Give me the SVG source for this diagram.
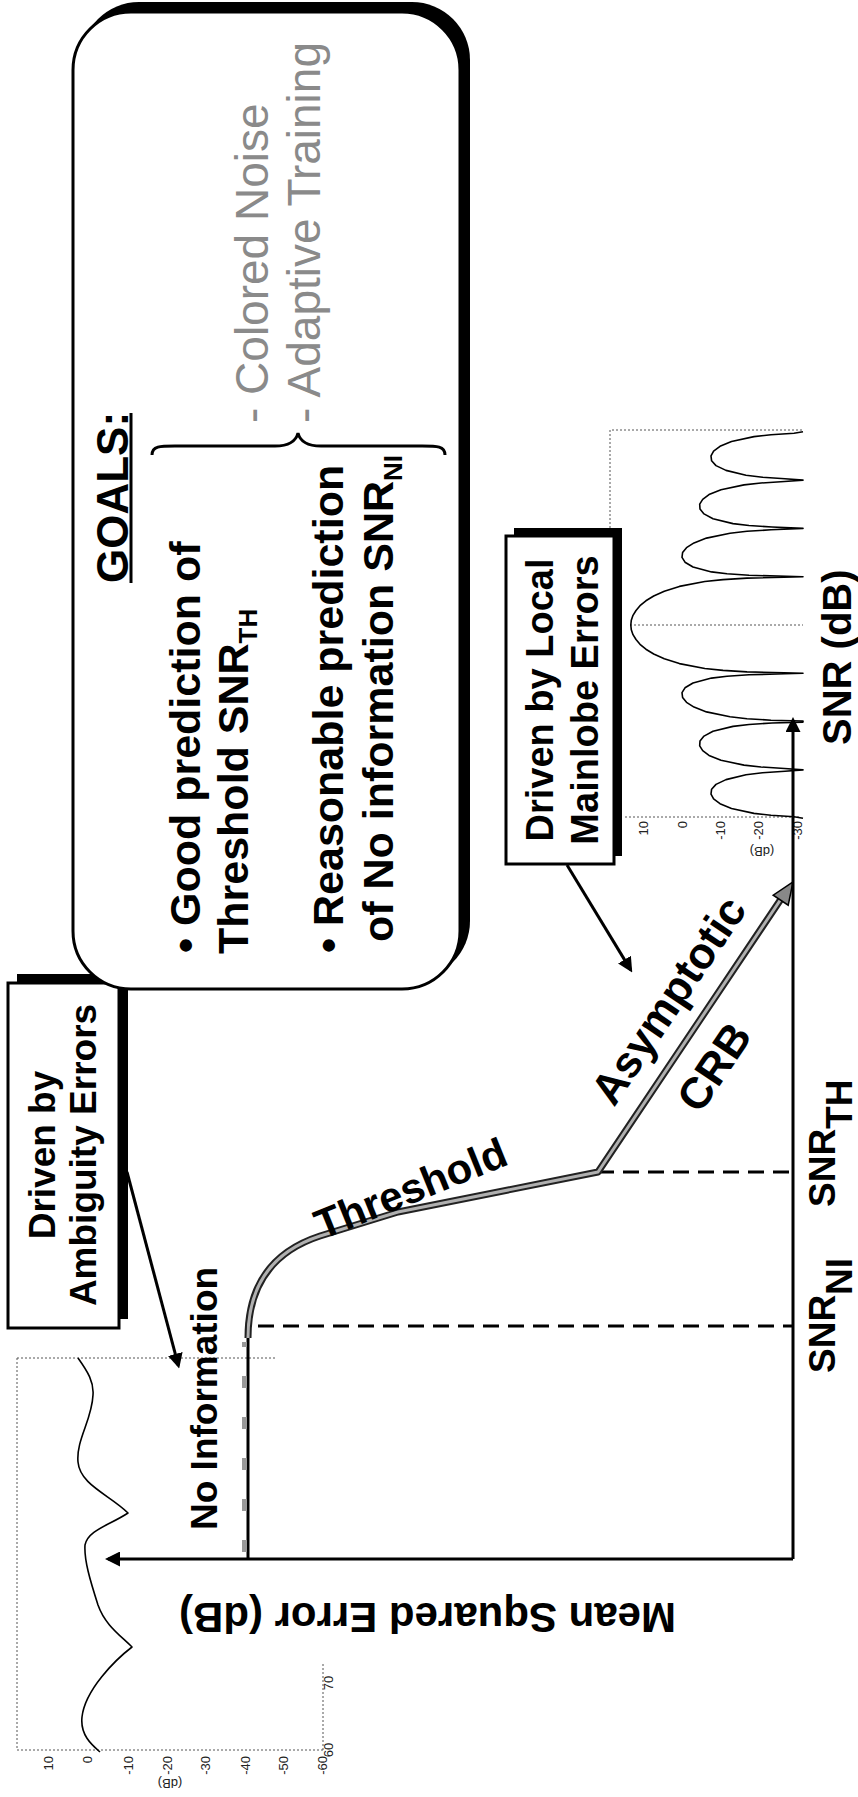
<svg xmlns="http://www.w3.org/2000/svg" width="858" height="1797" viewBox="0 0 858 1797">
<style>
.t{font-family:"Liberation Sans",Arial,sans-serif;font-weight:bold;fill:#000}
.g{font-family:"Liberation Sans",Arial,sans-serif;fill:#8a8a8a}
.s{font-family:"Liberation Sans",Arial,sans-serif;font-size:13px;fill:#222}
.ln{fill:none;stroke:#000;stroke-width:3}
.dash{fill:none;stroke:#000;stroke-width:3;stroke-dasharray:16 9}
.dot{fill:none;stroke:#555;stroke-width:1;stroke-dasharray:2 2}
.box{fill:#fff;stroke:#000;stroke-width:3}
.shadow{fill:#000}
.curve{fill:none;stroke:#000;stroke-width:1.6;stroke-linejoin:round}
</style>
<defs>
<marker id="ah" viewBox="0 0 10 10" refX="8" refY="5" markerWidth="5" markerHeight="5" orient="auto" markerUnits="strokeWidth"><path d="M0,0 L10,5 L0,10 z" fill="#000"/></marker>
</defs>
<rect x="0" y="0" width="858" height="1797" fill="#fff"/>

<g id="inset-left">
<path class="dot" d="M17,1358 L277,1358 M17,1358 L17,1750 L323,1750 M323,1750 L323,1663"/>
<path class="curve" d="M78,1358 C88,1372 94,1382 93,1395 C92,1420 76,1440 78,1462 C80,1485 110,1495 128,1513 C110,1525 88,1530 85,1545 C84,1560 90,1580 98,1605 C105,1625 120,1635 132,1647 C115,1660 85,1690 82,1717 C80,1735 92,1745 100,1752"/>
<g class="s" text-anchor="end">
<text transform="translate(53,1756) rotate(-90)">10</text>
<text transform="translate(92,1756) rotate(-90)">0</text>
<text transform="translate(133,1756) rotate(-90)">-10</text>
<text transform="translate(172,1756) rotate(-90)">-20</text>
<text transform="translate(210,1756) rotate(-90)">-30</text>
<text transform="translate(250,1756) rotate(-90)">-40</text>
<text transform="translate(288,1756) rotate(-90)">-50</text>
<text transform="translate(327,1756) rotate(-90)">-60</text>
</g>
<g class="s" text-anchor="middle">
<text transform="translate(333,1750) rotate(-90)">60</text>
<text transform="translate(333,1683) rotate(-90)">70</text>
<text transform="translate(170,1779) rotate(180)">(dB)</text>
</g>
</g>

<g id="inset-right">
<path class="dot" d="M610,528 L610,430 L803,430 M630,625 L803,625 M625,817 L800,817"/>
<path class="curve" d="M803,431.8 L794,433.2 L771,434.7 L754,436.6 L731.5,441.5 L720,446.3 L713.6,451.1 L711,455.9 L711.6,460.8 L716,465.6 L726,470.4 L746,475.3 L762.5,477.2 L785,478.7 L803,480.1 L784.5,481.5 L761,483 L744,484.9 L721,489.8 L709,494.6 L702.7,499.4 L699.7,504.2 L700,509.1 L704,513.9 L713,518.7 L733,523.6 L749,525.5 L772,527 L803,528.4 L771,529.8 L747,531.3 L730,533.2 L706.5,538.1 L694,542.9 L686.5,547.7 L682.6,552.5 L682,557.4 L685,562.2 L693,567 L711.5,571.9 L727,573.8 L749,575.3 L803,576.7 L784,577.2 L747,578.1 L723,579.6 L704.8,581.5 L679.4,586.4 L664.3,591.2 L653.7,596 L645.9,600.8 L640,605.7 L636,610.5 L633,615.3 L631.3,620.2 L630.8,625 L631.3,629.8 L633,634.7 L636,639.5 L640,644.3 L645.9,649.2 L653.7,654 L664.3,658.8 L679.4,663.6 L704.8,668.5 L723,670.4 L747,671.9 L784,672.8 L803,673.3 L785,673.8 L749,674.7 L727,676.2 L711.5,678.1 L693,683 L685,687.8 L682,692.6 L682.6,697.5 L686.5,702.3 L694,707.1 L706.5,711.9 L730,716.8 L747,718.7 L771,720.2 L803,721.1 L803,721.6 L803,722.1 L772,723 L749,724.5 L733,726.4 L713,731.3 L704,736.1 L700,740.9 L699.7,745.8 L702.7,750.6 L709,755.4 L721,760.2 L744,765.1 L761,767 L784.5,768.5 L803,769.9 L785,771.3 L762.5,772.8 L746,774.7 L726,779.6 L716,784.4 L711.6,789.2 L711,794.1 L713.6,798.9 L720,803.7 L731.5,808.5 L754,813.4 L771,815.3 L794,816.8 L803,818.2"/>
<g class="s" text-anchor="end">
<text transform="translate(648,821) rotate(-90)">10</text>
<text transform="translate(687,821) rotate(-90)">0</text>
<text transform="translate(725,821) rotate(-90)">-10</text>
<text transform="translate(763,821) rotate(-90)">-20</text>
<text transform="translate(802,821) rotate(-90)">-30</text>
</g>
<text class="s" text-anchor="middle" transform="translate(762,847) rotate(180)">(dB)</text>
</g>

<g id="box-ambiguity">
<rect class="shadow" x="17" y="974" width="111" height="345"/>
<rect class="box" x="8" y="983" width="111" height="345"/>
<text class="t" font-size="37" text-anchor="middle" transform="translate(55,1155) rotate(-90)">Driven by</text>
<text class="t" font-size="37" text-anchor="middle" transform="translate(96,1155) rotate(-90)">Ambiguity Errors</text>
</g>

<g id="goals">
<rect class="shadow" x="81" y="2" width="389" height="977" rx="58"/>
<rect class="box" x="73" y="12" width="387" height="977" rx="58" stroke-width="4"/>
<text class="t" font-size="44" transform="translate(128,583) rotate(-90)">GOALS:</text>
<line x1="131" y1="583" x2="131" y2="413" stroke="#000" stroke-width="3"/>
<text class="t" font-size="43" transform="translate(200,953) rotate(-90)">• Good prediction of</text>
<text class="t" font-size="43" transform="translate(248,954) rotate(-90)">Threshold SNR<tspan font-size="26" dy="9">TH</tspan></text>
<text class="t" font-size="43" transform="translate(343,953) rotate(-90)">• Reasonable prediction</text>
<text class="t" font-size="43" transform="translate(393,942) rotate(-90)">of No information SNR<tspan font-size="26" dy="9">NI</tspan></text>
<path d="M152,455 C152,446 160,446 175,446 L275,446 C290,446 296,441 298,433 C300,441 306,446 321,446 L422,446 C437,446 445,446 445,455" fill="none" stroke="#000" stroke-width="3"/>
<text class="g" font-size="46" transform="translate(268,423) rotate(-90)">- Colored Noise</text>
<text class="g" font-size="46" transform="translate(320,423) rotate(-90)">- Adaptive Training</text>
</g>

<g id="box-local">
<rect class="shadow" x="514" y="528" width="108" height="328"/>
<rect class="box" x="506" y="536" width="108" height="328"/>
<text class="t" font-size="38" text-anchor="middle" transform="translate(553,700) rotate(-90)">Driven by Local</text>
<text class="t" font-size="38" text-anchor="middle" transform="translate(598,700) rotate(-90)">Mainlobe Errors</text>
</g>

<g id="curve">
<line class="dash" x1="258" y1="1326" x2="793" y2="1326"/>
<line class="dash" x1="598" y1="1172" x2="793" y2="1172"/>
<path d="M248,1559 L248,1338" fill="none" stroke="#000" stroke-width="3"/>
<path d="M244.5,1552 L244.5,1342" fill="none" stroke="#999" stroke-width="5" stroke-dasharray="12 29"/>
<path d="M248,1338 C248,1290 268,1253 320,1236 L398,1212 L598,1172 L781,899" fill="none" stroke="#222" stroke-width="7" stroke-linejoin="round"/>
<path d="M248,1338 C248,1290 268,1253 320,1236 L398,1212 L598,1172 L781,899" fill="none" stroke="#b0b0b0" stroke-width="3" stroke-linejoin="round"/>
<polygon points="793,882 788.2,905.2 773.2,895.2" fill="#888" stroke="#000" stroke-width="1.5"/>
</g>

<g id="connectors">
<path class="ln" d="M793,1559 L793,720" marker-end="url(#ah)"/>
<path class="ln" d="M793,1559 L108,1559" marker-end="url(#ah)"/>
<path class="ln" stroke-width="2.5" d="M127,1172 L178.4,1365.6" marker-end="url(#ah)"/>
<path class="ln" stroke-width="2.5" d="M567,865 L630.7,969.9" marker-end="url(#ah)"/>
</g>

<g id="labels">
<text class="t" font-size="37" transform="translate(217,1530) rotate(-90)">No Information</text>
<text class="t" font-size="42" transform="translate(322,1240) rotate(-22)">Threshold</text>
<text class="t" font-size="44" transform="translate(614,1108) rotate(-56)">Asymptotic</text>
<text class="t" font-size="44" transform="translate(700,1115) rotate(-56)">CRB</text>
<text class="t" font-size="37" transform="translate(835,1207) rotate(-90)">SNR<tspan dy="17">TH</tspan></text>
<text class="t" font-size="37" transform="translate(835,1373) rotate(-90)">SNR<tspan dy="17">NI</tspan></text>
<text class="t" font-size="40" transform="translate(851,745) rotate(-90)">SNR (dB)</text>
<text class="t" font-size="42" transform="translate(676,1603) rotate(180)">Mean Squared Error (dB)</text>
</g>
</svg>
